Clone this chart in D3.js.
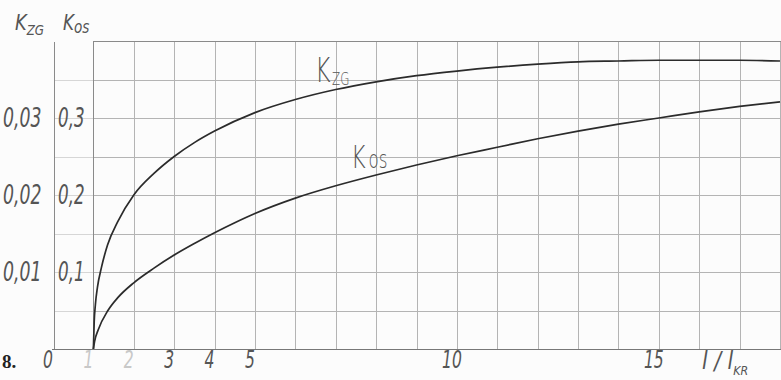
<!DOCTYPE html>
<html>
<head>
<meta charset="utf-8">
<script src="https://cdn.jsdelivr.net/npm/d3@7"></script>
<style>
  body { margin: 0; background: #fcfcfc; }
  svg { display: block; }
  text.hand { font-family: "DejaVu Sans", sans-serif; font-weight: 200; }
</style>
</head>
<body>
<svg id="chart" width="781" height="380"></svg>
<script>
// l / l_KR positions where the curves were read
var ratioZG = [1, 1.02, 1.05, 1.1, 1.2, 1.35, 1.6, 2, 2.5, 3, 3.5, 4, 5, 6, 7, 8, 9, 10, 11, 12, 13, 14, 15, 16, 17, 18];
var kZG = [0, 0.0035, 0.0058, 0.008, 0.0106, 0.0135, 0.0165, 0.02, 0.0228, 0.025, 0.0268, 0.0283, 0.0307,
           0.0324, 0.0337, 0.0347, 0.0355, 0.0361, 0.0366, 0.037, 0.0373, 0.0374, 0.0375, 0.0375, 0.0375, 0.0374];
var ratioOS = [1, 1.03, 1.12, 1.36, 1.61, 2, 2.5, 3, 3.5, 4, 4.5, 5, 6, 7, 8, 9, 10, 11, 12, 13, 14, 15, 16, 17, 18];
var kOS = [0, 0.01, 0.025, 0.05, 0.067, 0.086, 0.105, 0.122, 0.137, 0.151, 0.164, 0.176, 0.196, 0.212, 0.226,
           0.239, 0.251, 0.262, 0.273, 0.283, 0.292, 0.3, 0.308, 0.315, 0.321];
var xTicks = [0, 1, 2, 3, 4, 5, 10, 15];
var zgTicks = [0.01, 0.02, 0.03];
var osTicks = [0.1, 0.2, 0.3];

var svg = d3.select("#chart");
var x = d3.scaleLinear().domain([0, 18]).range([53, 780]);
var yOS = d3.scaleLinear().domain([0, 0.4]).range([349, 41]);
var yZG = d3.scaleLinear().domain([0, 0.04]).range([349, 41]);

// narrow hand-lettered text: main part plus optional subscript, squeezed horizontally
function label(main, sub, px, py, size, subSize, subDy, sx, opt) {
    opt = opt || {};
    var t = svg.append("text")
        .attr("class", "hand")
        .attr("transform", "translate(" + px + "," + py + ") scale(" + sx + ",1)")
        .attr("font-size", size)
        .attr("fill", opt.fill || "#555")
        .attr("font-style", opt.upright ? "normal" : "italic");
    if (opt.anchor) t.attr("text-anchor", opt.anchor);
    t.append("tspan").text(main);
    if (sub) t.append("tspan").attr("font-size", subSize).attr("dy", subDy).attr("dx", opt.subDx || 0).text(sub);
    return t;
}

// grid
var hVals = d3.range(1, 8).map(function (i) { return i * 0.05; });
var grid = svg.append("g").attr("stroke-width", 1);
grid.selectAll("line.hl")
    .data(hVals)
    .enter().append("line")
    .attr("stroke", "#d6d6d6")
    .attr("x1", 55).attr("x2", x(1))
    .attr("y1", function (d) { return Math.round(yOS(d)) + 0.5; })
    .attr("y2", function (d) { return Math.round(yOS(d)) + 0.5; });
grid.selectAll("line.h")
    .data(hVals)
    .enter().append("line")
    .attr("stroke", "#b4b4b4")
    .attr("x1", x(1)).attr("x2", 781)
    .attr("y1", function (d) { return Math.round(yOS(d)) + 0.5; })
    .attr("y2", function (d) { return Math.round(yOS(d)) + 0.5; });
grid.selectAll("line.v")
    .data(d3.range(2, 19))
    .enter().append("line")
    .attr("stroke", "#b4b4b4")
    .attr("x1", function (d) { return Math.round(x(d)) + 0.5; })
    .attr("x2", function (d) { return Math.round(x(d)) + 0.5; })
    .attr("y1", yOS(0.4)).attr("y2", yOS(0));

// frame
svg.append("line").attr("x1", Math.round(x(1)) + 0.5).attr("x2", Math.round(x(1)) + 0.5)
    .attr("y1", yOS(0.4)).attr("y2", yOS(0)).attr("stroke", "#8a8a8a");
svg.append("line").attr("x1", Math.round(x(1))).attr("x2", 781)
    .attr("y1", 41.5).attr("y2", 41.5).attr("stroke", "#8a8a8a");
svg.append("line").attr("x1", 54.5).attr("x2", 54.5)
    .attr("y1", yOS(0.4) + 1).attr("y2", yOS(0)).attr("stroke", "#8a8a8a");
svg.append("line").attr("x1", 52).attr("x2", 781)
    .attr("y1", 349.5).attr("y2", 349.5).attr("stroke", "#777");

// curves
var lineZG = d3.line()
    .x(function (d, i) { return x(ratioZG[i]); })
    .y(function (d) { return yZG(d); })
    .curve(d3.curveMonotoneX);
var lineOS = d3.line()
    .x(function (d, i) { return x(ratioOS[i]); })
    .y(function (d) { return yOS(d); })
    .curve(d3.curveMonotoneX);
svg.append("path").attr("d", lineZG(kZG)).attr("fill", "none").attr("stroke", "#2b2b2b").attr("stroke-width", 1.7);
svg.append("path").attr("d", lineOS(kOS)).attr("fill", "none").attr("stroke", "#2b2b2b").attr("stroke-width", 1.7);

// y tick labels
zgTicks.forEach(function (d) {
    label(d3.format(".2f")(d).replace(".", ","), null, 3, yZG(d) + 9, 27, 0, 0, 0.64);
});
osTicks.forEach(function (d) {
    label(d3.format(".1f")(d).replace(".", ","), null, 58, yOS(d) + 9, 27, 0, 0, 0.62);
});

// x tick labels
xTicks.forEach(function (d) {
    label(String(d), null, x(d) - 5, 368, 24, 0, 0, 0.65,
        { anchor: "middle", fill: d === 1 || d === 2 ? "#c8c8c8" : "#555" });
});
label("l / l", "KR", 702, 369, 24, 13, 6, 0.85);

svg.append("text").attr("x", 2).attr("y", 368)
    .attr("font-family", "Liberation Serif, serif").attr("font-weight", "bold")
    .attr("font-size", 19).attr("fill", "#222").text("8.");

// axis titles
label("K", "ZG", 15, 30, 21, 14, 5, 0.85);
label("K", "os", 63, 30, 21, 17, 3, 0.8);

// curve labels
label("K", "ZG", 315, 82, 34, 17, 3, 0.7, { upright: true, subDx: 2 });
label("K", "os", 351, 168, 32, 24, 0, 0.7, { upright: true, subDx: 4 });
</script>
</body>
</html>
